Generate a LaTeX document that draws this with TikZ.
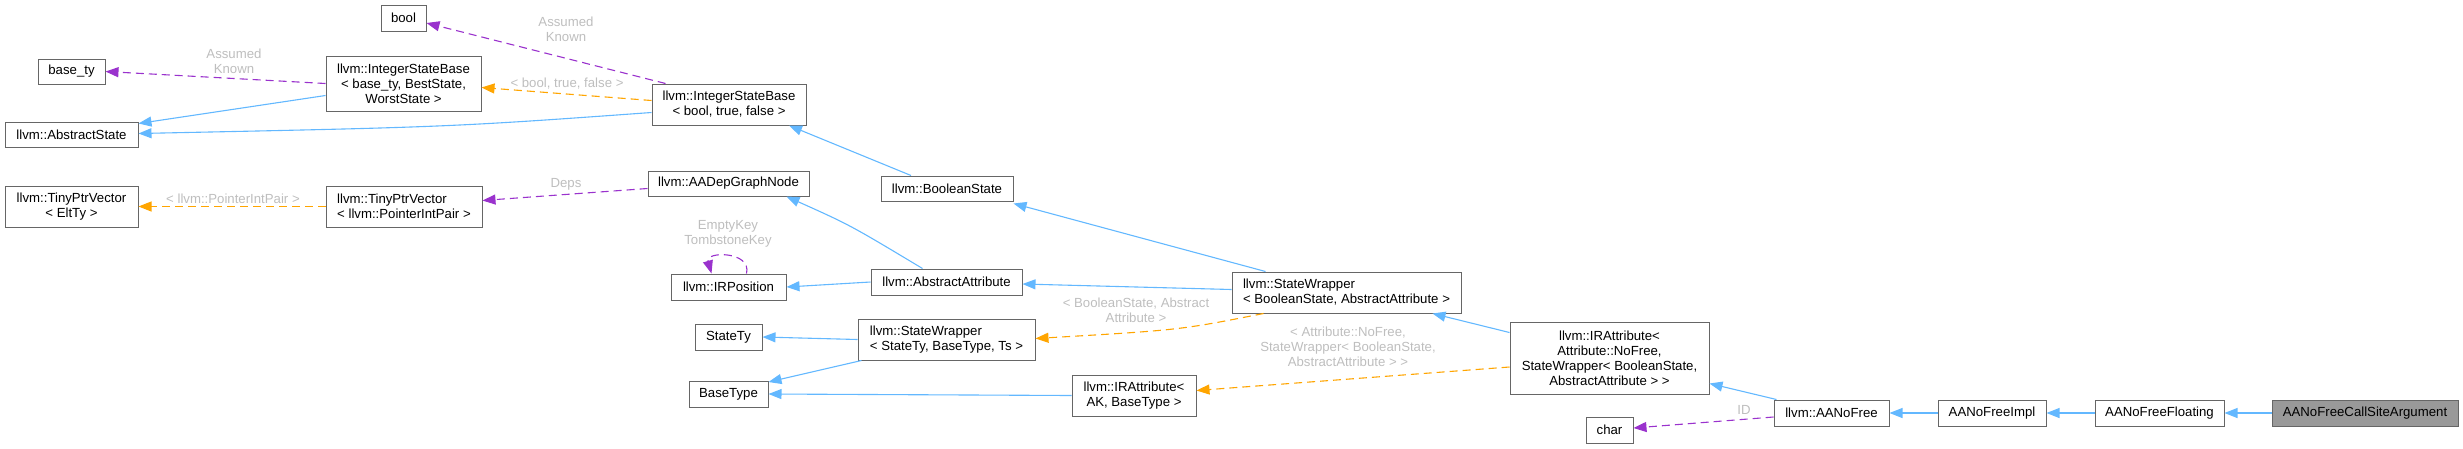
\documentclass[tikz,border=0pt]{standalone}
\usepackage{fontspec}
\setmainfont{Liberation Sans}
\usetikzlibrary{arrows.meta, calc}
\definecolor{DOXblue}{HTML}{63B8FF}
\definecolor{DOXorange}{HTML}{FFA500}
\definecolor{DOXpurple}{HTML}{9A32CD}
\definecolor{DOXborder}{HTML}{666666}
\definecolor{DOXlabel}{HTML}{BEBEBE}
\definecolor{DOXfocus}{HTML}{999999}

\begin{document}
\begin{tikzpicture}[x=1pt, y=-1pt,
   cls/.style={draw=DOXborder, fill=white, line width=1pt, inner sep=0pt, font=\fontsize{13.2}{15}\selectfont, align=center},
   inh/.style={DOXblue, line width=1.1pt, -{Triangle[length=13pt, width=10pt]}},
   tpl/.style={DOXorange, line width=1.1pt, dash pattern=on 8pt off 5pt, -{Triangle[length=13pt, width=10pt]}},
   usage/.style={DOXpurple, line width=1.1pt, dash pattern=on 8pt off 5pt, -{Triangle[length=13pt, width=10pt]}},
   elabel/.style={DOXlabel, font=\fontsize{13.2}{15}\selectfont, align=center, inner sep=0pt}]
      \useasboundingbox (0,0) rectangle (2463,448);
      % Column 1
      \node[cls, minimum width=67, minimum height=25] (basety) at (71.5,71.5) {base\_ty};
      \node[cls, minimum width=133, minimum height=25] (absstate) at (71.5,134.5) {llvm::AbstractState};
      \node[cls, minimum width=133, minimum height=41] (tpvelt) at (71.5,206.5) {llvm::TinyPtrVector\\< EltTy >};
      % Column 2
      \node[cls, minimum width=45, minimum height=26] (bool) at (403.5,18) {bool};
      \node[cls, minimum width=155, minimum height=55] (isbbase) at (403.5,83.5) {llvm::IntegerStateBase\\< base\_ty, BestState,\\WorstState >};
      \node[cls, minimum width=156, minimum height=41, align=left] (tpvpip) at (404,206.5) {llvm::TinyPtrVector\\< llvm::PointerIntPair >};
      % Column 3
      \node[cls, minimum width=154, minimum height=41] (isbbool) at (729,104.5) {llvm::IntegerStateBase\\< bool, true, false >};
      \node[cls, minimum width=161, minimum height=25] (depnode) at (728.5,183.5) {llvm::AADepGraphNode};
      \node[cls, minimum width=115, minimum height=26] (irpos) at (728.5,287) {llvm::IRPosition};
      \node[cls, minimum width=67, minimum height=26] (statety) at (728.5,337) {StateTy};
      \node[cls, minimum width=79, minimum height=26] (basetype) at (728.5,394) {BaseType};
      % Column 4
      \node[cls, minimum width=132, minimum height=25] (boolstate) at (947,188.5) {llvm::BooleanState};
      \node[cls, minimum width=151, minimum height=26] (absattr) at (946.5,282) {llvm::AbstractAttribute};
      \node[cls, minimum width=177, minimum height=41, align=left] (swgen) at (946.5,339.5) {llvm::StateWrapper\\< StateTy, BaseType, Ts >};
      % Column 5
      \node[cls, minimum width=229, minimum height=41, align=left] (swbool) at (1346.5,292.5) {llvm::StateWrapper\\< BooleanState, AbstractAttribute >};
      \node[cls, minimum width=124, minimum height=41] (irattrgen) at (1134,395.5) {llvm::IRAttribute<\\AK, BaseType >};
      % Column 6
      \node[cls, minimum width=199, minimum height=72] (irattrnofree) at (1609.5,358) {llvm::IRAttribute<\\Attribute::NoFree,\\StateWrapper< BooleanState,\\AbstractAttribute > >};
      \node[cls, minimum width=47, minimum height=26] (char) at (1609.5,430) {char};
      % Bottom chain
      \node[cls, minimum width=115, minimum height=26] (aanofree) at (1831.5,413) {llvm::AANoFree};
      \node[cls, minimum width=108, minimum height=26] (impl) at (1992,413) {AANoFreeImpl};
      \node[cls, minimum width=129, minimum height=26] (floating) at (2159.5,413) {AANoFreeFloating};
      \node[cls, minimum width=186, minimum height=26, fill=DOXfocus] (callsite) at (2365,413) {AANoFreeCallSiteArgument};
      % Inheritance
      \draw[inh] ($(isbbase.west)+(0,12)$) -- ($(absstate.east)+(0,-11)$);
      \draw[inh] ($(isbbool.west)+(0,8)$) .. controls (450,127) .. ($(absstate.east)+(0,-1)$);
      \draw[inh] ($(boolstate.north)+(-36,0)$) -- ($(isbbool.south)+(60,0)$);
      \draw[inh] ($(absattr.north)+(-24,0)$) .. controls (850,225) .. ($(depnode.south)+(58,0)$);
      \draw[inh] (absattr.west) -- (irpos.east);
      \draw[inh] ($(swbool.north)+(-81,0)$) -- ($(boolstate.south east)+(0,2)$);
      \draw[inh] ($(swbool.west)+(0,-3)$) -- ($(absattr.east)+(0,2)$);
      \draw[inh] (swgen.west) -- (statety.east);
      \draw[inh] ($(swgen.south west)+(4,0)$) -- ($(basetype.east)+(0,-12)$);
      \draw[inh] (irattrgen.west) -- (basetype.east);
      \draw[inh] ($(irattrnofree.north west)+(0,11)$) -- ($(swbool.south)+(86,0)$);
      \draw[inh] ($(aanofree.north west)+(3,0)$) -- ($(irattrnofree.south east)+(0,-11)$);
      \draw[inh] (impl.west) -- (aanofree.east);
      \draw[inh] (floating.west) -- (impl.east);
      \draw[inh] (callsite.west) -- (floating.east);
      % Template instances
      \draw[tpl] ($(isbbool.west)+(0,-4)$) -- ($(isbbase.east)+(0,4)$);
      \draw[tpl] (tpvpip.west) -- (tpvelt.east);
      \draw[tpl] ($(swbool.south)+(-83,0)$) .. controls (1180,330) .. ($(swgen.east)+(0,-1)$);
      \draw[tpl] ($(irattrnofree.west)+(0,9)$) -- ($(irattrgen.east)+(0,-5)$);
      % Usage
      \draw[usage] (isbbase.west) -- (basety.east);
      \draw[usage] ($(isbbool.north west)+(14,0)$) -- ($(bool.east)+(0,5)$);
      \draw[usage] ($(depnode.west)+(0,5)$) -- ($(tpvpip.east)+(0,-6)$);
      \draw[usage] ($(irpos.north)+(18,0)$) .. controls (752,251) and (705,251) .. ($(irpos.north)+(-17,0)$);
      \draw[usage] ($(aanofree.west)+(0,4)$) -- ($(char.east)+(0,-2)$);
      % Labels
      \node[elabel] (lassumed1) at (234,61) {Assumed\\Known};
      \node[elabel] (lassumed2) at (566,29) {Assumed\\Known};
      \node[elabel] (lboolargs) at (567,84) {< bool, true, false >};
      \node[elabel] (ldeps) at (566,184) {Deps};
      \node[elabel] (lpip) at (233,199) {< llvm::PointerIntPair >};
      \node[elabel] (lkeys) at (728,234) {EmptyKey\\TombstoneKey};
      \node[elabel] (lswargs) at (1136,310) {< BooleanState, Abstract\\Attribute >};
      \node[elabel] (lirargs) at (1348,347) {< Attribute::NoFree,\\StateWrapper< BooleanState,\\AbstractAttribute > >};
      \node[elabel] (lid) at (1744,410) {ID};
   \end{tikzpicture}
\end{document}
